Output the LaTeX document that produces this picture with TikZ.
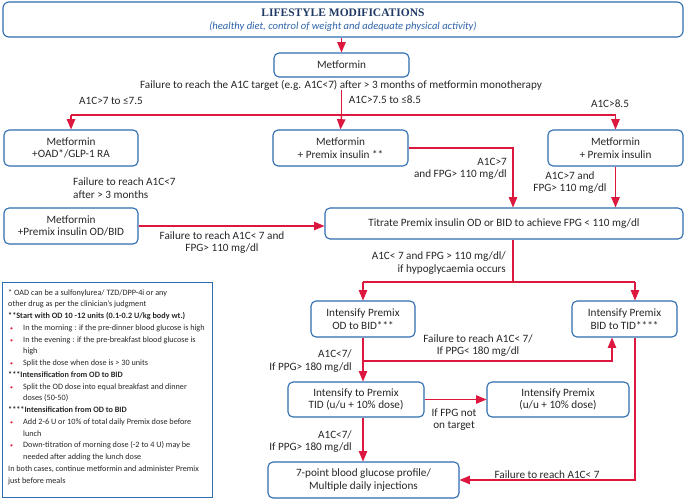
\documentclass[tikz,border=0pt]{standalone}
\usepackage{fontspec}
\setmainfont{Carlito}
\newfontfamily\titlefont{Liberation Serif}
\usetikzlibrary{calc,positioning,arrows}
\definecolor{boxblue}{RGB}{46,108,176}
\definecolor{arrred}{RGB}{220,24,62}
\definecolor{navy}{RGB}{31,56,100}
\definecolor{subblue}{RGB}{46,100,170}
\definecolor{txt}{RGB}{38,38,38}
\tikzstyle{bx}=[shape=rectangle, rounded corners=5pt, draw=boxblue, line width=1.1pt, align=center, inner sep=0pt, text=txt, font=\fontsize{11.2}{12.5}\selectfont]
\tikzstyle{lbl}=[align=center, inner sep=0pt, text=txt, font=\fontsize{11.2}{12.5}\selectfont]
\tikzstyle{ln}=[draw=arrred, line width=1.4pt]
\tikzstyle{arr}=[ln, -triangle 45]
\newcommand{\bpt}{\makebox[15pt][l]{\hspace{2pt}\textcolor{arrred}{\fontsize{6}{6}\selectfont •}}}
\newcommand{\cnt}{\hspace*{15pt}}

\begin{document}
\begin{tikzpicture}[x=1pt,y=-1pt]
\useasboundingbox (0,0) rectangle (685,500);

% boxes
\node (life) [bx,rounded corners=6pt,minimum width=680pt,minimum height=35pt] at (343,19.5) {};
\node (title) [lbl] at (343,13) {\fontsize{11.5}{12}\titlefont\bfseries\color{navy}LIFESTYLE MODIFICATIONS};
\node (sub) [lbl] at (343,27) {\fontsize{10.6}{11}\selectfont\itshape\color{subblue}(healthy diet, control of weight and adequate physical activity)};
\node (met) [bx,minimum width=135pt,minimum height=24pt] at (341.5,65) {Metformin};
\node (m1) [bx,minimum width=134pt,minimum height=36pt] at (71,148) {Metformin\\+OAD*/GLP-1 RA};
\node (m2) [bx,minimum width=135pt,minimum height=36pt] at (340.5,148) {Metformin\\+ Premix insulin **};
\node (m3) [bx,minimum width=135pt,minimum height=36pt] at (615.5,148) {Metformin\\+ Premix insulin};
\node (m4) [bx,minimum width=134pt,minimum height=36pt] at (71,226) {Metformin\\+Premix insulin OD/BID};
\node (tit) [bx,minimum width=358pt,minimum height=31pt] at (504,223.5) {Titrate Premix insulin OD or BID to achieve FPG < 110 mg/dl};
\node (odbid) [bx,minimum width=104pt,minimum height=36pt] at (363,319) {Intensify Premix\\OD to BID***};
\node (bidtid) [bx,minimum width=105pt,minimum height=36pt] at (624.5,319) {Intensify Premix\\BID to TID****};
\node (tid) [bx,minimum width=136pt,minimum height=35pt] at (356,399.5) {Intensify to Premix\\TID (u/u + 10\% dose)};
\node (uu) [bx,minimum width=142pt,minimum height=35pt] at (558,399.5) {Intensify Premix\\(u/u + 10\% dose)};
\node (seven) [bx,minimum width=191pt,minimum height=36pt] at (363.5,480) {7-point blood glucose profile/\\Multiple daily injections};

% labels
\node (fail1) [lbl] at (341,85) {Failure to reach the A1C target (e.g. A1C<7) after > 3 months of metformin monotherapy};
\node (c1) [lbl] at (111,101) {A1C>7 to ≤7.5};
\node (c2) [lbl] at (385,100) {A1C>7.5 to ≤8.5};
\node (c3) [lbl] at (610,104) {A1C>8.5};
\node (f2) [lbl,align=left,anchor=west] at (73,188) {Failure to reach A1C<7\\after > 3 months};
\node (f3) [lbl] at (222,242.5) {Failure to reach A1C< 7 and\\FPG> 110 mg/dl};
\node (f4) [lbl,align=right,anchor=east] at (507,169) {A1C>7\\and FPG> 110 mg/dl};
\node (f5) [lbl] at (570,182.5) {A1C>7 and\\FPG> 110 mg/dl};
\node (f6) [lbl,align=right,anchor=east] at (506,263) {A1C< 7 and FPG > 110 mg/dl/\\if hypoglycaemia occurs};
\node (f7) [lbl] at (478,345.5) {Failure to reach A1C< 7/\\If PPG< 180 mg/dl};
\node (f8) [lbl,align=right,anchor=east] at (352,361) {A1C<7/\\If PPG> 180 mg/dl};
\node (f9) [lbl] at (454,419.5) {If FPG not\\on target};
\node (f10) [lbl,align=right,anchor=east] at (352,441.5) {A1C<7/\\If PPG> 180 mg/dl};
\node (f11) [lbl,anchor=south] at (547,479) {Failure to reach A1C< 7};

% notes
\node (notes) [draw=boxblue,line width=0.8pt,anchor=north west,minimum width=210pt,minimum height=215pt,inner sep=0pt] at (2,282) {};
\node (notetxt) [anchor=north west,align=left,inner sep=0pt,text=txt,font=\fontsize{8.2}{11.75}\selectfont] at (8,289) {%
* OAD can be a sulfonylurea/ TZD/DPP-4i or any\\
other drug as per the clinician’s judgment\\
\textbf{**Start with OD 10 -12 units (0.1-0.2 U/kg body wt.)}\\
\bpt In the morning : if the pre-dinner blood glucose is high\\
\bpt In the evening : if the pre-breakfast blood glucose is\\
\cnt high\\
\bpt Split the dose when dose is > 30 units\\
\textbf{***Intensification from OD to BID}\\
\bpt Split the OD dose into equal breakfast and dinner\\
\cnt doses (50-50)\\
\textbf{****Intensification from OD to BID}\\
\bpt Add 2-6 U or 10\% of total daily Premix dose before\\
\cnt lunch\\
\bpt Down-titration of morning dose (-2 to 4 U) may be\\
\cnt needed after adding the lunch dose\\
In both cases, continue metformin and administer Premix\\
just before meals};

% connectors
\coordinate (sp1) at (341.5,115);
\coordinate (sp2) at (513,282);
\coordinate (sp2r) at (635,282);
\coordinate (sp3) at (363,361);

\draw[arr] (met.north |- life.south) -- (met.north);
\draw[ln] (fail1.south -| sp1) -- (sp1);
\draw[ln] (sp1 -| m1) -- (sp1 -| m3);
\draw[arr] (sp1 -| m1) -- (m1.north);
\draw[arr] (sp1) -- (m2.north);
\draw[arr] (sp1 -| m3) -- (m3.north);

\draw[arr] (m2.east) -| (sp2 |- tit.north);
\draw[arr] (m3.south) -- (m3 |- tit.north);
\draw[arr] (m4.east) -- (m4 -| tit.west);

\draw[ln] (sp2 |- tit.south) -- (sp2);
\draw[ln] (sp2 -| odbid) -- (sp2r);
\draw[arr] (sp2 -| odbid) -- (odbid.north);
\draw[arr] (sp2r) -- (sp2r |- bidtid.north);

\draw[arr] (odbid.south) -- (odbid.south |- tid.north);
\draw[arr] (sp3) -| (bidtid.south -| 612,0);
\draw[arr] (tid.east) -- (tid.east -| uu.west);
\draw[arr] (odbid.south |- tid.south) -- (odbid.south |- seven.north);
\draw[arr] (sp2r |- bidtid.south) |- (seven.east);

\end{tikzpicture}
\end{document}
